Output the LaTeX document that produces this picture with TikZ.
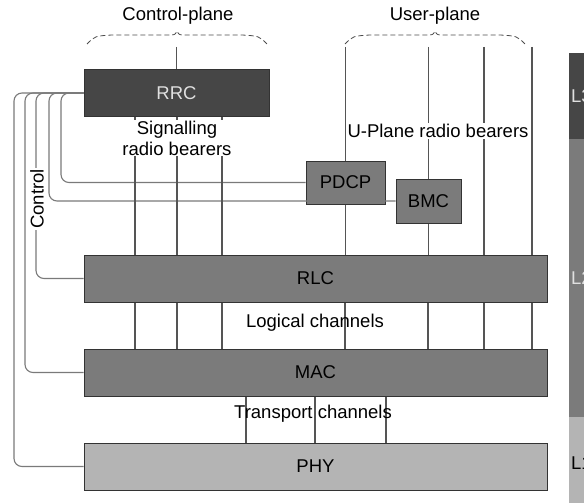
\documentclass[tikz,border=0pt]{standalone}
\usepackage{fontspec}
\setmainfont{Liberation Sans}
\usetikzlibrary{positioning, calc}
\definecolor{rrcgray}{HTML}{464646}
\definecolor{l2gray}{HTML}{7B7B7B}
\definecolor{phygray}{HTML}{B4B4B4}
\definecolor{linegray}{HTML}{555555}
\definecolor{ctrlgray}{HTML}{7A7A7A}

\begin{document}
\begin{tikzpicture}[x=1pt, y=-1pt,
  box/.style={draw=black!80, line width=1pt, inner sep=0pt},
  bearer/.style={draw=linegray, line width=1.1pt},
  ctrl/.style={draw=ctrlgray, line width=1.1pt, rounded corners=8pt},
  plane/.style={draw=black!70, line width=0.8pt, dash pattern=on 5pt off 3pt},
  lbl/.style={inner sep=1pt},
  side/.style={anchor=north west, minimum width=40pt, text width=36pt,
    inner sep=2pt, align=left},
  every node/.style={font=\fontsize{18.5}{21}\selectfont}
]
  \useasboundingbox (0,0) rectangle (584,503);

  % Layer boxes
  \node[box, fill=rrcgray, text=white!88!black, minimum width=185pt, minimum height=46pt] (rrc) at (176.5,93) {RRC};
  \node[box, fill=l2gray, minimum width=79pt, minimum height=43pt] (pdcp) at (345.5,182.5) {PDCP};
  \node[box, fill=l2gray, minimum width=65pt, minimum height=44pt] (bmc) at (428.5,201) {BMC};
  \node[box, fill=l2gray, minimum width=463pt, minimum height=47pt] (rlc) at (315.5,278.5) {RLC};
  \node[box, fill=l2gray, minimum width=463pt, minimum height=47pt] (mac) at (315.5,372.5) {MAC};
  \node[box, fill=phygray, minimum width=463pt, minimum height=47pt] (phy) at (315.5,466.5) {PHY};

  % Planes
  \coordinate (topline) at (0,47);
  \node[lbl] (cplane) at (178,16) {Control-plane};
  \node[lbl] (uplane) at (435,16) {User-plane};
  \draw[plane] (87,44) .. controls (95,36) .. (112,35) -- (168,35)
    .. controls (175,35) .. (177,31) .. controls (179,35) .. (186,35)
    -- (242,35) .. controls (259,36) .. (267,44);
  \draw[plane] (345,44) .. controls (353,36) .. (370,35) -- (426,35)
    .. controls (433,35) .. (435,31) .. controls (437,35) .. (444,35)
    -- (500,35) .. controls (517,36) .. (525,44);

  % Control lines
  \foreach \kx/\target in {61/pdcp, 49/bmc, 36/rlc, 25/mac, 14/phy}
    \draw[ctrl] (rrc.west) -| (\kx,0 |- \target.west) -- (\target.west);
  \node[lbl, rotate=90, fill=white] (ctrllbl) at (37,199) {Control};

  % Radio bearers
  \draw[bearer] (rrc.north |- topline) -- (rrc.north);
  \foreach \bx in {135,177,222}
    \draw[bearer] (rrc.south -| \bx,0) -- (rlc.north -| \bx,0);
  \draw[bearer] (pdcp.north |- topline) -- (pdcp.north);
  \draw[bearer] (bmc.north |- topline) -- (bmc.north);
  \draw[bearer] (pdcp.south) -- (rlc.north -| pdcp.south);
  \draw[bearer] (bmc.south) -- (rlc.north -| bmc.south);
  \foreach \ux in {484,532}
    \draw[bearer] (topline -| \ux,0) -- (rlc.north -| \ux,0);
  \node[lbl, fill=white, align=center] (srb) at (177,138) {Signalling\\radio bearers};
  \node[lbl, fill=white] (urb) at (438,131) {U-Plane radio bearers};

  % Logical and transport channels
  \foreach \bx in {135,177,222,345,428,484,532}
    \draw[bearer] (rlc.south -| \bx,0) -- (mac.north -| \bx,0);
  \foreach \tx in {246,315,386}
    \draw[bearer] (mac.south -| \tx,0) -- (phy.north -| \tx,0);
  \node[lbl] (logch) at (315,323) {Logical channels};
  \node[lbl] (trch) at (313,414) {Transport channels};

  % Side bar
  \begin{scope}
    \clip (0,0) rectangle (584,503);
    \node[side, fill=rrcgray, text=white!88!black, minimum height=86pt] (l3) at (569,53) {L3};
    \node[side, fill=l2gray, text=white!88!black, minimum height=278pt] (l2) at (569,139) {L2};
    \node[side, fill=phygray, minimum height=92pt] (l1) at (569,417) {L1};
  \end{scope}
\end{tikzpicture}
\end{document}
